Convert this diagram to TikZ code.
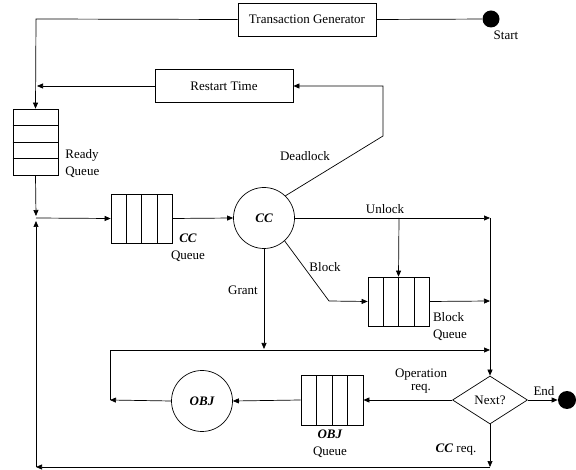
\documentclass[tikz,border=0pt]{standalone}
\usepackage{fontspec}
\setmainfont{Liberation Serif}
\usetikzlibrary{arrows.meta, calc, shapes.geometric}

\begin{document}
\begin{tikzpicture}[x=1pt, y=-1pt, line width=0.7pt,
    font=\fontsize{13}{17}\selectfont,
    box/.style={draw, rectangle, minimum width=138pt, minimum height=33pt, inner sep=0pt},
    queue/.style={draw, rectangle, minimum width=61pt, minimum height=49pt, inner sep=0pt},
    server/.style={draw, circle, minimum size=61pt, inner sep=0pt, font=\fontsize{13}{15}\selectfont\bfseries\itshape},
    decide/.style={draw, diamond, aspect=1.5, minimum width=75pt, minimum height=48pt, inner sep=0pt},
    dot/.style={circle, fill=black, minimum size=17pt, inner sep=0pt},
    lbl/.style={inner sep=0pt, align=center},
    flow/.style={-{Triangle[length=6pt, width=5pt]}}]

\useasboundingbox (0,0) rectangle (576,470);

%
\node[box] (gen) at (307,19.5) {Transaction Generator};
\node[dot] (start) at (491,19) {};
\node[lbl] (startlbl) at (506,35) {Start};
\node[box] (restart) at (224,86) {Restart Time};
\node[queue, minimum width=45pt, minimum height=66pt] (readyq) at (35.5,142) {};
\node[lbl, align=left, anchor=west] (readylbl) at (65,164) {Ready\\Queue};
\node[queue] (ccq) at (141.5,218.5) {};
\node[lbl] (ccqlbl) at (188,248) {\textbf{\textit{CC}}\\Queue};
\node[server] (cc) at (264,218) {CC};
\node[queue] (blockq) at (398.5,301.5) {};
\node[lbl, align=left] (blocklbl) at (450,327) {Block\\Queue};
\node[server] (obj) at (202,401) {OBJ};
\node[queue, minimum width=62pt, minimum height=50pt] (objq) at (332,400) {};
\node[lbl] (objqlbl) at (330,444) {\textbf{\textit{OBJ}}\\Queue};
\node[decide] (next) at (490,400) {Next?};
\node[dot, minimum size=18pt] (end) at (567,400) {};

%
\foreach \i in {1,2,3}
  \draw ($(readyq.north west)!\i/4!(readyq.south west)$) -- ($(readyq.north east)!\i/4!(readyq.south east)$);
\foreach \q in {ccq, blockq, objq}
  \foreach \i in {1,2,3}
    \draw ($(\q.south west)!\i/4!(\q.south east)$) -- ($(\q.north west)!\i/4!(\q.north east)$);

%
\coordinate (genturn) at (36,19);
\coordinate (rtleft) at (37,86);
\coordinate (join) at (36,218);
\coordinate (dlbend) at (383,136);
\coordinate (dlturn) at (383,86);
\coordinate (unlockend) at (490,218);
\coordinate (unlockdrop) at (399,218);
\coordinate (blockbend) at (329,301);
\coordinate (blockout) at (490,301);
\coordinate (grantend) at (264,349);
\coordinate (loopin) at (110,400);
\coordinate (loopcorner) at (110,350);
\coordinate (loopend) at (490,350);
\coordinate (ccreq) at (490,467);
\coordinate (backcorner) at (36,467);

%
\draw[flow] (gen.west) -- (genturn) -- (readyq.north);
\draw (gen.east) -- (start);
\draw[flow] (restart.west) -- (rtleft);
\draw[flow] (readyq.south) -- ($(join)+(0,-2)$);
\draw[flow] (join) -- (ccq.west);
\draw[flow] (ccq.east) -- (cc.west);
\draw[flow] (cc.46) -- (dlbend) -- (dlturn) -- (restart.east);
\draw[flow] (cc.east) -- (unlockend);
\draw[flow] (unlockdrop) -- (blockq.north);
\draw[flow] (cc.-48) -- (blockbend) -- (blockq.west);
\draw[flow] (blockq.east) -- (blockout);
\draw[flow] (unlockend) -- (next.north);
\draw[flow] (cc.south) -- (grantend);
\draw[flow] (loopin) -- (loopcorner) -- (loopend);
\draw[flow] (obj.west) -- (loopin);
\draw[flow] (objq.west) -- (obj.east);
\draw[flow] (next.west) -- (objq.east);
\draw[flow] (next.east) -- (end);
\draw[flow] (next.south) -- (ccreq);
\draw[flow] (ccreq) -- (backcorner);
\draw[flow] (backcorner) -- ($(join)+(0,3)$);

%
\node[lbl] (dllbl) at (305,156) {Deadlock};
\node[lbl] (unlocklbl) at (385,209) {Unlock};
\node[lbl] (blocklbl2) at (325,267) {Block};
\node[lbl] (grantlbl) at (243,290) {Grant};
\node[lbl, font=\fontsize{13}{13}\selectfont] (oplbl) at (421,381) {Operation\\req.};
\node[lbl] (endlbl) at (544,391) {End};
\node[lbl] (ccreqlbl) at (456,450) {\textbf{\textit{CC}} req.};
\end{tikzpicture}
\end{document}
